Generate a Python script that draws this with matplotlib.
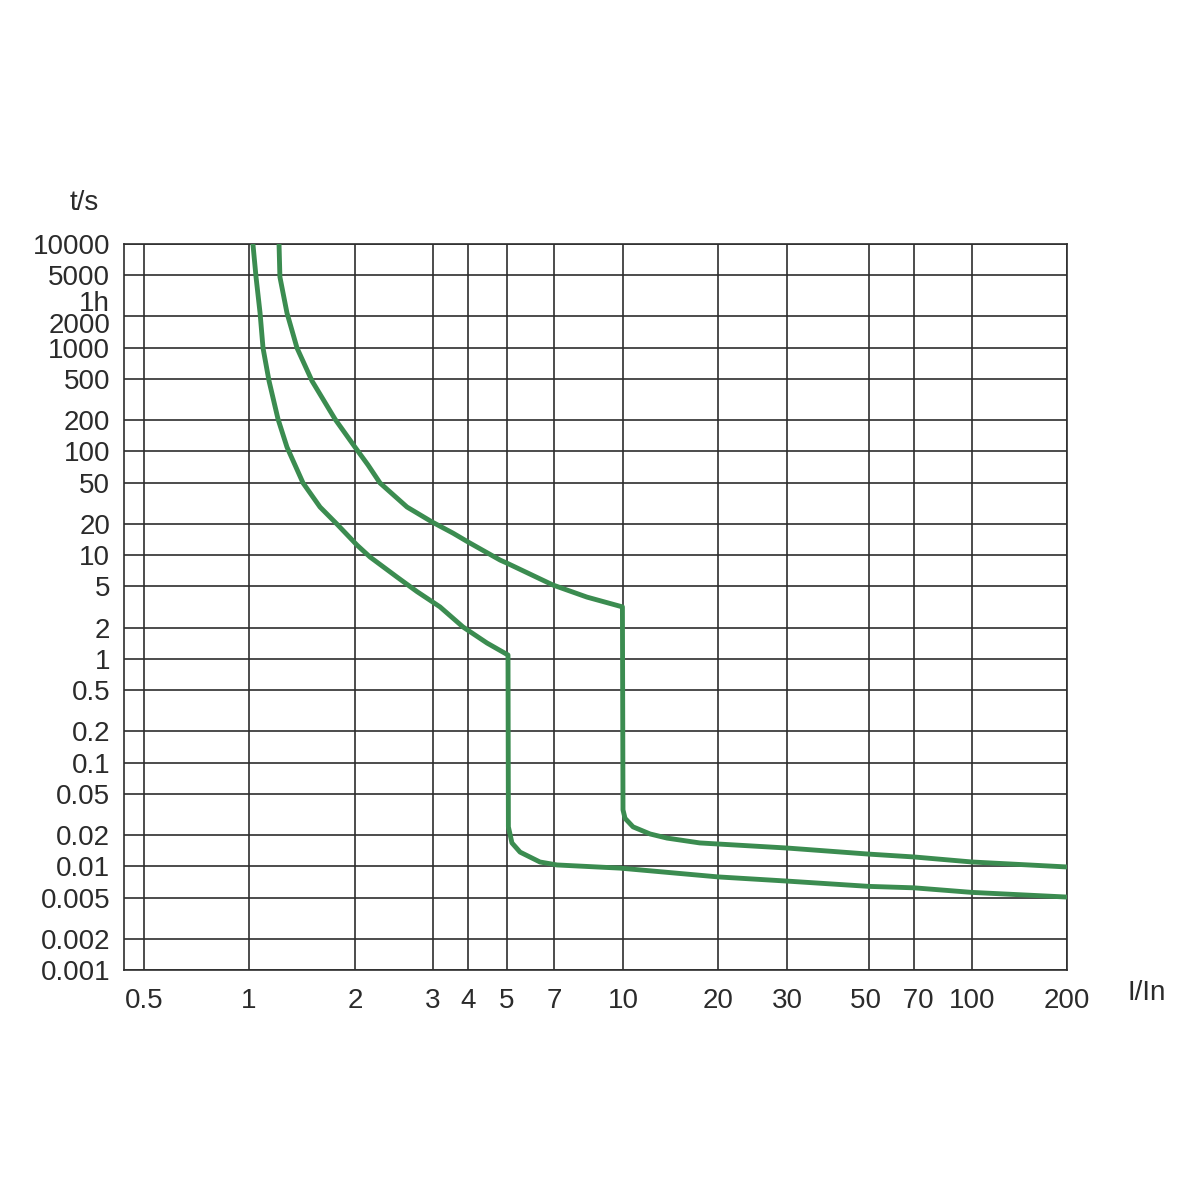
import numpy as np
import matplotlib
matplotlib.use("Agg")
import matplotlib.pyplot as plt
from matplotlib.ticker import NullLocator
from matplotlib.transforms import ScaledTranslation

plt.rcParams['font.family'] = ['Liberation Sans', 'DejaVu Sans']

# x axis of the original is hand spaced (not a true log axis)
x_ticks = [0.5, 1, 2, 3, 4, 5, 7, 10, 20, 30, 50, 70, 100, 200]
x_tick_labels = ['0.5', '1', '2', '3', '4', '5', '7', '10', '20', '30', '50 ', ' 70', '100', '200']
x_min = 0.438

y_ticks = [10000, 5000, 2000, 1000, 500, 200, 100, 50, 20, 10, 5, 2, 1,
           0.5, 0.2, 0.1, 0.05, 0.02, 0.01, 0.005, 0.002, 0.001]
y_tick_labels = ['10000', '5000', '', '1000', '500', '200', '100', '50', '20', '10', '5', '2', '1',
                 '0.5', '0.2', '0.1', '0.05', '0.02', '0.01', '0.005', '0.002', '0.001']

# lower curve (trips at ~5 In)
low_current = [1.026, 1.047, 1.075, 1.096, 1.14, 1.209, 1.282, 1.424, 1.591, 1.778,
               2.021, 2.162, 2.488, 2.761, 3.178, 3.839, 4.461, 5.036,
               5.05, 5.18, 5.49, 6.33, 7.11, 9.85, 20, 30, 50, 70, 100, 200]
low_time = [10000, 4810, 2161, 993, 478, 205, 110, 49.6, 29.1, 19.9,
            12.5, 9.6, 6.15, 4.45, 3.17, 2.03, 1.42, 1.09,
            0.024, 0.0168, 0.0137, 0.011, 0.0103, 0.0096, 0.0079, 0.0072,
            0.0064, 0.0062, 0.0056, 0.00505]

# upper curve (trips at ~10 In)
up_current = [1.217, 1.224, 1.282, 1.369, 1.51, 1.755, 2.0, 2.14, 2.278, 2.621, 2.985,
              3.536, 4.0, 4.805, 5.0, 6.95, 8.30, 9.97,
              10.0, 10.15, 10.76, 12.18, 13.79, 17.5, 20, 30, 50, 70, 100, 200]
up_time = [10000, 4810, 2161, 993, 478, 205, 110, 74, 49.6, 29.1, 20.9,
           16.3, 13.4, 8.97, 8.37, 5.15, 3.94, 3.17,
           0.035, 0.029, 0.024, 0.0205, 0.0187, 0.0168, 0.0164, 0.0150,
           0.0131, 0.0123, 0.0110, 0.00985]

# where each x tick sits along the axis (pixel units of the original drawing)
scale_pos = np.array([124, 144, 249, 355, 433, 468, 507, 554, 623, 718, 787, 869, 914, 972, 1067], float)
scale_vals = np.log10([x_min] + x_ticks)


def fwd(x):
    x = np.clip(np.asarray(x, float), 1e-9, None)
    return np.interp(np.log10(x), scale_vals, scale_pos)


def inv(p):
    return 10 ** np.interp(np.asarray(p, float), scale_pos, scale_vals)


grid_col = '#2e2e2e'
text_col = '#2b2b2b'
green = '#3b8c50'

fig = plt.figure(figsize=(12, 12), dpi=100)
ax = fig.add_axes([124 / 1200, 230 / 1200, 943 / 1200, 726 / 1200])

ax.set_xscale('function', functions=(fwd, inv))
ax.set_yscale('log')
ax.set_xlim(x_min, 200)
ax.set_ylim(0.001, 10000)

ax.plot(low_current, low_time, color=green, lw=3.5, solid_joinstyle='round', zorder=3)
ax.plot(up_current, up_time, color=green, lw=3.5, solid_joinstyle='round', zorder=3)

ax.set_xticks(x_ticks, x_tick_labels)
ax.set_yticks(y_ticks, y_tick_labels)
ax.xaxis.set_minor_locator(NullLocator())
ax.yaxis.set_minor_locator(NullLocator())
ax.tick_params(length=0, labelsize=20, colors=text_col)
ax.tick_params(axis='x', pad=13)
ax.tick_params(axis='y', pad=10)
ax.grid(True, color=grid_col, lw=1.2)
for s in ax.spines.values():
    s.set_color(grid_col)
    s.set_linewidth(1.2)

# crowded labels near the top are nudged apart like in the original
trans = ax.get_yaxis_transform()
ax.text(0, 2000, '2000', fontsize=20, color=text_col, ha='right', va='center_baseline',
        transform=trans + ScaledTranslation(-0.14, -0.07, fig.dpi_scale_trans))
ax.text(0, 3600, '1h', fontsize=20, color=text_col, ha='right', va='center_baseline',
        transform=trans + ScaledTranslation(-0.14, -0.11, fig.dpi_scale_trans))

fig.text(84 / 1200, 1 - 203 / 1200, 't/s', fontsize=20, color=text_col, ha='center', va='center')
fig.text(1147 / 1200, 1 - 993 / 1200, 'I/In', fontsize=20, color=text_col, ha='center', va='center')

fig.savefig('out.png', dpi=100, facecolor='white')
